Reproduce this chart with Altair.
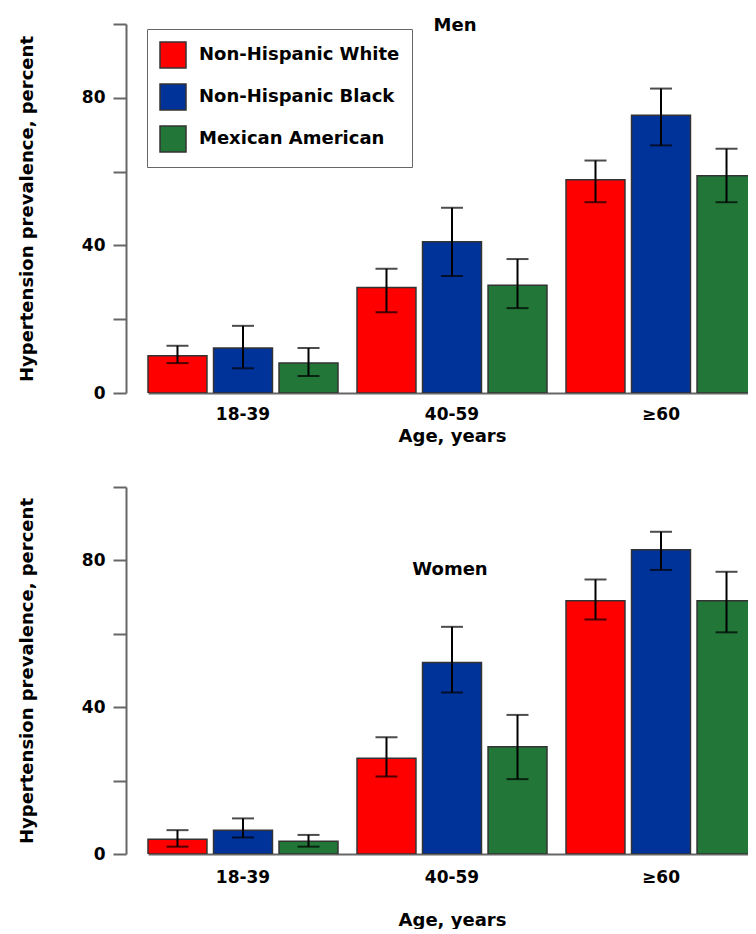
import altair as alt
import pandas as pd

ages = ["18-39", "40-59", "≥60"]
groups = ["Non-Hispanic White", "Non-Hispanic Black", "Mexican American"]
colors = ["#ff0000", "#003399", "#227638"]

# Men: prevalence (%) and 95% CI bounds per age group
men_white = [10.1, 28.6, 57.8]
men_white_lo = [8.1, 21.9, 51.7]
men_white_hi = [12.8, 33.7, 63.0]
men_black = [12.2, 41.0, 75.3]
men_black_lo = [6.7, 31.7, 67.1]
men_black_hi = [18.2, 50.2, 82.5]
men_mex = [8.1, 29.2, 58.9]
men_mex_lo = [4.6, 23.0, 51.7]
men_mex_hi = [12.2, 36.3, 66.2]

# Women
women_white = [4.0, 26.1, 69.0]
women_white_lo = [2.0, 21.1, 63.9]
women_white_hi = [6.5, 31.8, 74.8]
women_black = [6.5, 52.2, 82.9]
women_black_lo = [4.5, 44.0, 77.4]
women_black_hi = [9.7, 61.9, 87.8]
women_mex = [3.5, 29.2, 69.0]
women_mex_lo = [2.0, 20.4, 60.4]
women_mex_hi = [5.2, 37.9, 76.9]

FONT = "DejaVu Sans"


def make_df(series):
    rows = []
    for g, (m, lo, hi) in zip(groups, series):
        for a, mv, lv, hv in zip(ages, m, lo, hi):
            rows.append({"age": a, "group": g, "mean": mv, "lo": lv, "hi": hv})
    return pd.DataFrame(rows)


men_df = make_df([
    (men_white, men_white_lo, men_white_hi),
    (men_black, men_black_lo, men_black_hi),
    (men_mex, men_mex_lo, men_mex_hi),
])
women_df = make_df([
    (women_white, women_white_lo, women_white_hi),
    (women_black, women_black_lo, women_black_hi),
    (women_mex, women_mex_lo, women_mex_hi),
])

W = 622


def panel(df, label, label_x, label_y, show_legend, x_label_pad, x_title_pad, h):
    xenc = alt.X(
        "age:N", sort=ages,
        scale=alt.Scale(range=[22, 630], paddingInner=0.091, paddingOuter=0),
        axis=alt.Axis(title="Age, years", ticks=False, labelAngle=0,
                      labelPadding=x_label_pad, titlePadding=x_title_pad),
    )
    xoff = alt.XOffset("group:N", sort=groups,
                       scale=alt.Scale(paddingInner=0.1, paddingOuter=0))
    yscale = alt.Scale(domain=[0, 100], nice=False)
    yaxis = alt.Axis(
        values=[0, 20, 40, 60, 80, 100],
        labelExpr="(datum.value % 40 == 0 && datum.value < 100) ? datum.label : ''",
        title="Hypertension prevalence, percent",
        tickSize=13, labelPadding=8, titlePadding=45, grid=False,
    )
    if show_legend:
        legend = alt.Legend(
            orient="none", legendX=21, legendY=5, title=None,
            symbolType="square", symbolSize=676, symbolStrokeColor="#333333",
            symbolStrokeWidth=1.5, symbolOpacity=1,
            labelFont=FONT, labelFontSize=18, labelFontWeight="bold",
            labelColor="black", labelOffset=12, labelLimit=400,
            rowPadding=10, padding=12,
            strokeColor="#666666", fillColor="white",
        )
    else:
        legend = None
    color = alt.Color("group:N", sort=groups,
                      scale=alt.Scale(domain=groups, range=colors),
                      legend=legend)
    base = alt.Chart(df)
    bars = base.mark_bar(stroke="#333333", strokeWidth=1.5, clip=True).encode(
        x=xenc, xOffset=xoff,
        y=alt.Y("mean:Q", scale=yscale, axis=yaxis),
        color=color,
    )
    rules = base.mark_rule(color="black", strokeWidth=2, clip=True).encode(
        x=xenc, xOffset=xoff,
        y=alt.Y("lo:Q", scale=yscale, axis=yaxis), y2="hi:Q",
    )
    cap_lo = base.mark_tick(color="black", thickness=2, size=22, clip=True,
                            orient="horizontal").encode(
        x=xenc, xOffset=xoff, y=alt.Y("lo:Q", scale=yscale, axis=yaxis),
    )
    cap_hi = base.mark_tick(color="black", thickness=2, size=22, clip=True,
                            orient="horizontal").encode(
        x=xenc, xOffset=xoff, y=alt.Y("hi:Q", scale=yscale, axis=yaxis),
    )
    txt = alt.Chart(pd.DataFrame({"t": [label]})).mark_text(
        font=FONT, fontSize=18, fontWeight="bold", color="black",
        align="center", baseline="middle",
    ).encode(text="t:N", x=alt.value(label_x), y=alt.value(label_y))
    return alt.layer(bars, rules, cap_lo, cap_hi, txt).properties(width=W, height=h)


top = panel(men_df, "Men", 329, 2, True, 13, 5, 369)
bottom = panel(women_df, "Women", 324, 83, False, 15, 26, 367)

chart = (
    alt.vconcat(top, bottom, spacing=41)
    .resolve_scale(color="independent")
    .properties(padding={"left": 10, "top": 9, "right": 0, "bottom": 0})
    .configure_view(stroke=None)
    .configure_axis(
        domainColor="#666666", domainWidth=2, tickColor="#666666", tickWidth=2,
        labelFont=FONT, labelFontSize=17, labelFontWeight="bold", labelColor="black",
        titleFont=FONT, titleFontSize=18, titleFontWeight="bold", titleColor="black",
    )
)

chart.save("out.html", embed_options={"renderer": "svg", "actions": False})
